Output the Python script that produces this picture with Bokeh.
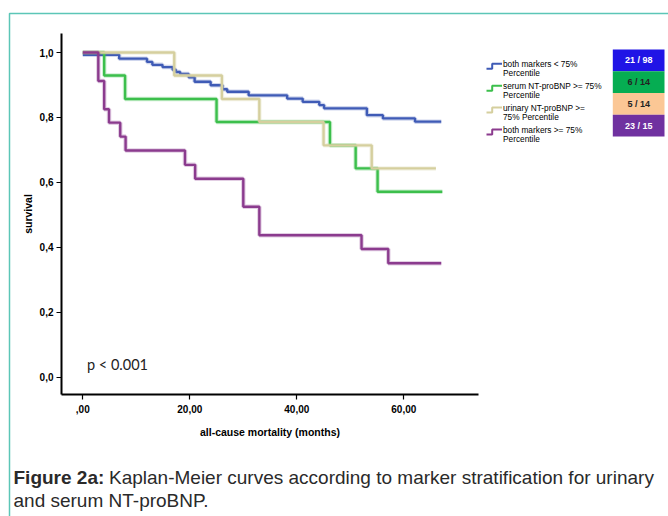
from bokeh.plotting import figure
from bokeh.models import Range1d, FixedTicker
from bokeh.core.properties import value
from bokeh.embed import file_html
from bokeh.resources import INLINE

# ---------------- data ----------------
blue_t = [0, 6.8, 12.0, 13.0, 14.9, 16.8, 17.4, 18.2, 19.8, 20.9, 23.9, 26.1, 27.0,
          31.0, 38.2, 41.1, 44.2, 45.1, 53.1, 56.1, 62.1, 67.0]
blue_s = [0.993, 0.981, 0.971, 0.962, 0.955, 0.947, 0.940, 0.934, 0.924, 0.910, 0.899,
          0.887, 0.879, 0.868, 0.858, 0.848, 0.838, 0.828, 0.807, 0.797, 0.787, 0.787]

green_t = [0, 4.0, 7.9, 25.0, 46.2, 51.0, 55.1, 67.2]
green_s = [1.0, 0.929, 0.857, 0.786, 0.714, 0.643, 0.571, 0.571]

khaki_t = [0, 17.1, 26.0, 33.0, 45.0, 54.0, 66.0]
khaki_s = [1.0, 0.929, 0.857, 0.786, 0.714, 0.643, 0.643]

purple_t = [0, 2.9, 4.0, 4.9, 7.0, 8.0, 19.1, 21.0, 30.0, 33.0, 52.1, 57.1, 67.0]
purple_s = [1.0, 0.912, 0.825, 0.784, 0.741, 0.698, 0.654, 0.611, 0.525, 0.437,
            0.395, 0.351, 0.351]

x_ticks = [0, 20, 40, 60]
x_tick_labels = [",00", "20,00", "40,00", "60,00"]
y_ticks = [0.0, 0.2, 0.4, 0.6, 0.8, 1.0]
y_tick_labels = ["0,0", "0,2", "0,4", "0,6", "0,8", "1,0"]

legend_lines = [("both markers < 75%", "Percentile"),
                ("serum NT-proBNP >= 75%", "Percentile"),
                ("urinary NT-proBNP >=", "75% Percentile"),
                ("both markers >= 75%", "Percentile")]
box_labels = ["21 / 98", "6 / 14", "5 / 14", "23 / 15"]

x_label = "all-cause mortality (months)"
y_label = "survival"
p_text = "p < 0.001"
caption_bold = "Figure 2a:"
caption_1 = "Kaplan-Meier curves according to marker stratification for urinary"
caption_2 = "and serum NT-proBNP."

# ---------------- styles ----------------
line_colors = ["#3f5bb6", "#3cbf4c", "#d5cf9e", "#8b3b8e"]
box_colors = ["#2014e6", "#06ad52", "#fbc795", "#7031a0"]
box_text_colors = ["white", "#222222", "#222222", "white"]
TEAL = "#5cc6b7"
SANS = value("Liberation Sans")

# ---------------- geometry (canvas pixels) ----------------
W, H = 668, 516
FL, FR, FT, FB = 61, 478, 33, 394          # chart frame (axis lines)
X_ZERO, X_PX = 82.3, 5.35                  # pixel of month 0, pixels per month
Y_ZERO, Y_PX = 376.7, 324.7                # pixel of survival 0, pixels per unit


def X(px):
    return (px - X_ZERO) / X_PX


def Y(py):
    return (Y_ZERO - py) / Y_PX


p = figure(width=W, height=H,
           x_range=Range1d(X(0), X(W)), y_range=Range1d(Y(H), Y(0)),
           output_backend="svg", toolbar_location=None,
           min_border_left=0, min_border_right=0, min_border_top=0, min_border_bottom=0)
p.title.visible = False
p.outline_line_color = None
p.background_fill_color = "white"
p.border_fill_color = "white"
p.xgrid.visible = False
p.ygrid.visible = False

for ax in (p.xaxis[0], p.yaxis[0]):
    ax.axis_line_width = 2
    ax.axis_line_color = "black"
    ax.major_tick_in = 0
    ax.major_tick_out = 5
    ax.major_tick_line_width = 1.2
    ax.minor_tick_line_color = None
    ax.major_label_text_font = "Liberation Sans"
    ax.major_label_text_font_style = "bold"
    ax.major_label_text_font_size = "10px"
    ax.major_label_text_color = "black"
    ax.axis_label_text_font = "Liberation Sans"
    ax.axis_label_text_font_style = "bold"
    ax.axis_label_text_font_size = "10.5px"
    ax.axis_label_text_color = "black"

p.xaxis.fixed_location = Y(FB)
p.xaxis.bounds = (X(FL), X(FR))
p.xaxis.ticker = FixedTicker(ticks=x_ticks)
p.xaxis.major_label_overrides = dict(zip(x_ticks, x_tick_labels))
p.xaxis.major_label_standoff = 5
p.xaxis.axis_label = x_label
p.xaxis.axis_label_standoff = 10

p.yaxis.fixed_location = X(FL)
p.yaxis.bounds = (Y(FB), Y(FT))
p.yaxis.ticker = FixedTicker(ticks=y_ticks)
p.yaxis.major_label_overrides = dict(zip(y_ticks, y_tick_labels))
p.yaxis.major_label_standoff = 3
p.yaxis.axis_label = y_label
p.yaxis.axis_label_standoff = 3

series = [(blue_t, blue_s), (green_t, green_s), (khaki_t, khaki_s), (purple_t, purple_s)]
for (t, s), c in zip(series, line_colors):
    p.step(t, s, mode="after", line_color=c, line_width=4.5, line_alpha=0.25)
    p.step(t, s, mode="after", line_color=c, line_width=2.4)

p.text(x=[X(86.5)], y=[Y(363.5)], text=[p_text], text_baseline="middle",
       text_font=value("Lato"), text_font_size="14.5px", text_color="#222222")

# legend
for i, ((l1, l2), c) in enumerate(zip(legend_lines, line_colors)):
    cy = 63.3 + 21.9 * i
    p.line([X(486), X(491.7), X(491.7), X(501.5)],
           [Y(cy + 5), Y(cy + 5), Y(cy), Y(cy)], line_color=c, line_width=2)
    p.text(x=[X(502.5), X(502.5)], y=[Y(cy), Y(cy + 9.2)], text=[l1, l2],
           text_baseline="middle", text_font=SANS, text_font_size="8.3px",
           text_color="black")

# coloured count boxes
for i, (txt, bc, tc) in enumerate(zip(box_labels, box_colors, box_text_colors)):
    top = 49 + 21.75 * i
    bot = top + 21.75
    p.quad(left=[X(612.3)], right=[X(664)], top=[Y(top)], bottom=[Y(bot)],
           fill_color=bc, line_color=None)
    p.text(x=[X(638.2)], y=[Y((top + bot) / 2)], text=[txt], text_align="center",
           text_baseline="middle", text_font=SANS, text_font_style="bold",
           text_font_size="9px", text_color=tc)

# teal frame
p.line([X(9), X(9), X(W + 5)], [Y(H + 5), Y(13), Y(13)], line_color=TEAL, line_width=1.5)

# caption
p.text(x=[X(13)], y=[Y(477)], text=[caption_bold], text_baseline="middle",
       text_font=SANS, text_font_style="bold", text_font_size="19px", text_color="#2a2a2a")
p.text(x=[X(108.5)], y=[Y(477)], text=[caption_1], text_baseline="middle",
       text_font=SANS, text_font_size="19px", text_color="#2a2a2a")
p.text(x=[X(13)], y=[Y(500)], text=[caption_2], text_baseline="middle",
       text_font=SANS, text_font_size="19px", text_color="#2a2a2a")

open("out.html", "w").write(file_html(p, INLINE))
